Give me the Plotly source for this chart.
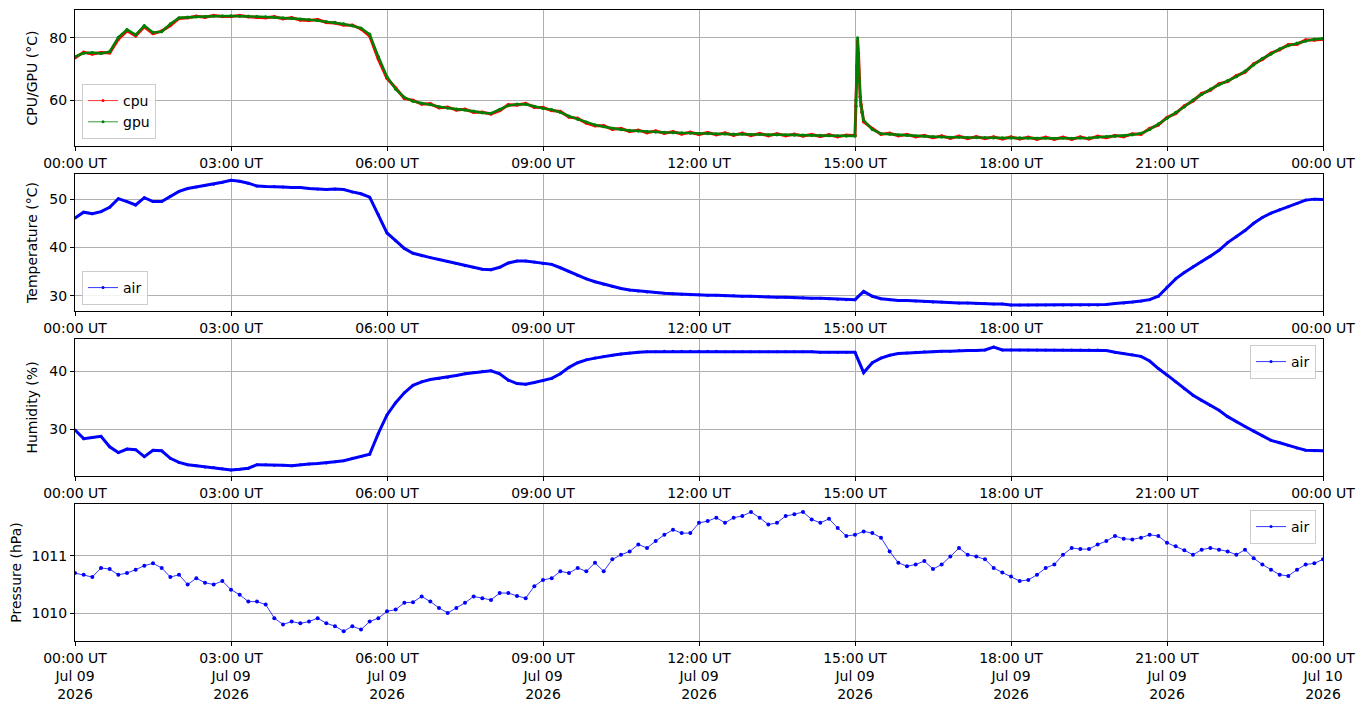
import pandas as pd
import plotly.graph_objects as go

# ---------------- data (10-minute samples, 00:00 .. 24:00) ----------------
times = pd.date_range("2026-07-09 00:00", "2026-07-10 00:00", freq="10min")

gpu = [
    74.0, 75.1, 75.3, 75.0, 75.6, 80.2,
    82.7, 81.0, 84.0, 81.8, 82.0, 84.5,
    86.5, 86.7, 86.8, 86.9, 87.0, 87.1,
    87.1, 87.0, 87.0, 86.9, 86.8, 86.6,
    86.5, 86.3, 86.1, 85.9, 85.6, 85.3,
    85.0, 84.5, 83.9, 83.2, 81.2, 74.0,
    67.5, 63.5, 60.9, 59.6, 59.0, 58.5,
    57.8, 57.4, 57.1, 56.8, 56.4, 55.9,
    55.7, 57.0, 58.2, 58.7, 58.6, 58.0,
    57.3, 56.9, 56.0, 54.8, 53.8, 52.9,
    52.0, 51.4, 50.9, 50.5, 50.2, 50.0,
    49.8, 49.7, 49.6, 49.5, 49.4, 49.3,
    49.2, 49.2, 49.1, 49.1, 49.0, 49.0,
    48.9, 48.9, 48.8, 48.8, 48.8, 48.7,
    48.7, 48.6, 48.6, 48.5, 48.5, 48.4,
    48.4, 53.5, 50.5, 49.2, 49.0, 48.8,
    48.6, 48.5, 48.3, 48.2, 48.1, 48.0,
    48.0, 47.9, 47.9, 47.9, 47.8, 47.8,
    47.8, 47.8, 47.7, 47.7, 47.7, 47.7,
    47.7, 47.7, 47.8, 47.8, 48.0, 48.2,
    48.3, 48.5, 48.8, 49.3, 50.5, 52.3,
    54.1, 56.0, 57.8, 60.0, 61.8, 63.5,
    64.9, 66.3, 67.5, 69.3, 71.3, 73.4,
    74.8, 76.5, 77.5, 78.3, 79.0, 79.6,
    79.8,
]

cpu = [
    73.6, 75.4, 74.8, 75.3, 75.2, 79.6,
    82.3, 80.7, 83.6, 81.4, 82.2, 84.0,
    86.3, 86.5, 87.0, 86.7, 87.2, 86.9,
    86.9, 87.2, 86.8, 86.7, 86.5, 86.8,
    86.2, 86.5, 85.8, 85.6, 85.9, 85.0,
    84.8, 84.2, 84.1, 82.9, 80.6, 73.2,
    67.0, 63.9, 60.5, 59.9, 58.7, 58.8,
    57.5, 57.7, 56.8, 57.0, 56.1, 56.1,
    55.5, 56.6, 58.5, 58.4, 58.9, 57.7,
    57.6, 56.6, 56.3, 54.5, 54.1, 52.6,
    51.7, 51.7, 50.6, 50.8, 49.9, 50.3,
    49.5, 50.0, 49.3, 49.8, 49.1, 49.6,
    48.9, 49.5, 48.8, 49.4, 48.7, 49.3,
    48.6, 49.2, 48.5, 49.1, 48.5, 49.0,
    48.4, 48.9, 48.3, 48.8, 48.2, 48.7,
    48.6, 53.0, 50.8, 49.0, 49.3, 48.5,
    48.9, 48.2, 48.6, 47.9, 48.4, 47.7,
    48.3, 47.6, 48.2, 47.6, 48.1, 47.5,
    48.1, 47.5, 48.0, 47.4, 48.0, 47.4,
    48.0, 47.4, 48.1, 47.5, 48.3, 47.9,
    48.6, 48.2, 49.1, 49.0, 50.8, 52.0,
    54.4, 55.7, 58.1, 59.7, 62.1, 63.2,
    65.2, 66.0, 67.8, 69.0, 71.6, 73.1,
    75.1, 76.2, 77.8, 78.0, 79.3, 79.3,
    79.6,
]

# short CPU/GPU spike just after 15:00 (1-minute samples)
spike_times = ["2026-07-09 15:01", "2026-07-09 15:02", "2026-07-09 15:03", "2026-07-09 15:04",
               "2026-07-09 15:05", "2026-07-09 15:06", "2026-07-09 15:07", "2026-07-09 15:08"]
spike_cpu = [58.0, 71.0, 79.0, 75.0, 67.0, 61.0, 58.5, 56.0]
spike_gpu = [60.0, 70.0, 80.0, 74.0, 66.0, 61.0, 58.0, 56.2]

temperature = [
    46.1, 47.3, 47.0, 47.4, 48.3, 50.1,
    49.5, 48.8, 50.3, 49.5, 49.5, 50.6,
    51.6, 52.2, 52.5, 52.8, 53.1, 53.5,
    53.9, 53.7, 53.3, 52.7, 52.6, 52.6,
    52.5, 52.4, 52.4, 52.2, 52.1, 52.0,
    52.1, 52.0, 51.5, 51.1, 50.4, 46.8,
    43.0, 41.4, 39.8, 38.8, 38.3, 37.9,
    37.5, 37.1, 36.7, 36.2, 35.9, 35.5,
    35.4, 35.9, 36.8, 37.2, 37.2, 37.0,
    36.7, 36.5, 35.8, 35.0, 34.2, 33.5,
    32.9, 32.4, 31.9, 31.5, 31.2, 31.0,
    30.8, 30.7, 30.5, 30.4, 30.3, 30.2,
    30.2, 30.1, 30.1, 30.0, 30.0, 29.9,
    29.9, 29.8, 29.8, 29.7, 29.7, 29.6,
    29.6, 29.5, 29.5, 29.4, 29.3, 29.2,
    29.2, 30.9, 29.9, 29.4, 29.2, 29.0,
    29.0, 28.9, 28.8, 28.7, 28.7, 28.6,
    28.5, 28.5, 28.4, 28.4, 28.3, 28.3,
    28.1, 28.1, 28.1, 28.1, 28.1, 28.1,
    28.1, 28.1, 28.1, 28.1, 28.1, 28.2,
    28.4, 28.5, 28.7, 28.9, 29.2, 29.9,
    31.8, 33.5, 34.8, 36.0, 37.1, 38.2,
    39.4, 41.0, 42.2, 43.5, 45.0, 46.2,
    47.1, 47.8, 48.4, 49.1, 49.8, 50.0,
    49.9,
]

humidity = [
    29.9, 28.4, 28.6, 28.8, 27.0, 26.0,
    26.6, 26.5, 25.3, 26.4, 26.3, 25.0,
    24.3, 23.9, 23.7, 23.5, 23.4, 23.2,
    23.0, 23.1, 23.3, 23.9, 23.9, 23.8,
    23.8, 23.7, 23.9, 24.0, 24.1, 24.2,
    24.4, 24.6, 25.0, 25.3, 25.7, 29.3,
    32.5, 34.6, 36.3, 37.6, 38.2, 38.6,
    38.8, 39.0, 39.3, 39.6, 39.8, 40.0,
    40.1, 39.6, 38.5, 37.9, 37.8, 38.1,
    38.4, 38.8, 39.6, 40.7, 41.5, 42.0,
    42.3, 42.6, 42.8, 43.0, 43.2, 43.3,
    43.4, 43.4, 43.5, 43.5, 43.5, 43.5,
    43.5, 43.5, 43.5, 43.4, 43.4, 43.4,
    43.4, 43.4, 43.4, 43.4, 43.4, 43.4,
    43.4, 43.4, 43.3, 43.3, 43.3, 43.3,
    43.3, 39.8, 41.5, 42.3, 42.8, 43.1,
    43.2, 43.3, 43.4, 43.4, 43.5, 43.5,
    43.6, 43.6, 43.6, 43.7, 44.2, 43.7,
    43.7, 43.7, 43.7, 43.7, 43.7, 43.7,
    43.7, 43.7, 43.7, 43.7, 43.7, 43.6,
    43.3, 43.1, 42.9, 42.6, 41.8, 40.5,
    39.4, 38.2, 37.0, 35.9, 35.0, 34.1,
    33.3, 32.2, 31.3, 30.5, 29.7, 28.9,
    28.1, 27.7, 27.2, 26.8, 26.4, 26.3,
    26.3,
]

pressure = [
    1010.70, 1010.67, 1010.63, 1010.79, 1010.77, 1010.67,
    1010.70, 1010.76, 1010.83, 1010.87, 1010.79, 1010.63,
    1010.67, 1010.50, 1010.61, 1010.53, 1010.50, 1010.56,
    1010.41, 1010.32, 1010.20, 1010.20, 1010.15, 1009.91,
    1009.80, 1009.85, 1009.82, 1009.85, 1009.91, 1009.82,
    1009.77, 1009.68, 1009.77, 1009.71, 1009.85, 1009.91,
    1010.03, 1010.06, 1010.18, 1010.19, 1010.29, 1010.20,
    1010.09, 1010.00, 1010.09, 1010.18, 1010.29, 1010.26,
    1010.23, 1010.35, 1010.35, 1010.30, 1010.26, 1010.47,
    1010.58, 1010.61, 1010.73, 1010.70, 1010.79, 1010.73,
    1010.88, 1010.73, 1010.94, 1011.02, 1011.08, 1011.20,
    1011.14, 1011.26, 1011.37, 1011.46, 1011.40, 1011.40,
    1011.58, 1011.61, 1011.67, 1011.58, 1011.67, 1011.70,
    1011.77, 1011.67, 1011.55, 1011.58, 1011.70, 1011.73,
    1011.77, 1011.64, 1011.58, 1011.65, 1011.49, 1011.35,
    1011.37, 1011.43, 1011.40, 1011.32, 1011.08, 1010.88,
    1010.82, 1010.85, 1010.91, 1010.77, 1010.85, 1010.99,
    1011.14, 1011.02, 1010.99, 1010.94, 1010.79, 1010.71,
    1010.64, 1010.56, 1010.58, 1010.67, 1010.79, 1010.85,
    1011.02, 1011.14, 1011.12, 1011.12, 1011.20, 1011.26,
    1011.35, 1011.30, 1011.29, 1011.32, 1011.37, 1011.35,
    1011.23, 1011.17, 1011.10, 1011.02, 1011.11, 1011.14,
    1011.11, 1011.08, 1011.02, 1011.11, 1010.96, 1010.85,
    1010.76, 1010.67, 1010.65, 1010.76, 1010.85, 1010.87,
    1010.94,
]

tick_times = ["2026-07-09 00:00", "2026-07-09 03:00", "2026-07-09 06:00", "2026-07-09 09:00",
              "2026-07-09 12:00", "2026-07-09 15:00", "2026-07-09 18:00", "2026-07-09 21:00",
              "2026-07-10 00:00"]
tick_hours = ["00:00 UT", "03:00 UT", "06:00 UT", "09:00 UT", "12:00 UT",
              "15:00 UT", "18:00 UT", "21:00 UT", "00:00 UT"]
tick_days = ["Jul 09", "Jul 09", "Jul 09", "Jul 09", "Jul 09", "Jul 09", "Jul 09", "Jul 09", "Jul 10"]
tick_years = ["2026"] * 9

y_titles = ["CPU/GPU (°C)", "Temperature (°C)", "Humidity (%)", "Pressure (hPa)"]
y_ranges = [[45.2, 89.0], [26.85, 55.2], [21.95, 45.6], [1009.51, 1011.91]]
y_ticks = [[60, 80], [30, 40, 50], [30, 40], [1010, 1011]]

# ---------------- build ----------------
cpu_df = pd.DataFrame({"t": list(times) + list(pd.to_datetime(spike_times)),
                       "cpu": cpu + spike_cpu, "gpu": gpu + spike_gpu}).sort_values("t")

RED, GREEN, BLUE = "#ff0000", "#008000", "#0000ff"
FONT = "DejaVu Sans"
FS = 14

fig = go.Figure()


def add_series(x, y, color, ax, lw, ms):
    fig.add_trace(go.Scatter(x=x, y=y, mode="lines+markers", xaxis="x" + ax, yaxis="y" + ax,
                             line=dict(color=color, width=lw), marker=dict(color=color, size=ms),
                             showlegend=False, hoverinfo="skip"))


def add_legend_entry(name, color, ax, legend):
    fig.add_trace(go.Scatter(x=[None], y=[None], mode="lines+markers", name=name,
                             xaxis="x" + ax, yaxis="y" + ax, legend=legend,
                             line=dict(color=color, width=0.8), marker=dict(color=color, size=3)))


add_series(cpu_df["t"], cpu_df["cpu"], RED, "", 3.0, 3.5)
add_series(cpu_df["t"], cpu_df["gpu"], GREEN, "", 2.4, 3.2)
add_series(times, temperature, BLUE, "2", 3.0, 3.0)
add_series(times, humidity, BLUE, "3", 3.0, 3.0)
add_series(times, pressure, BLUE, "4", 0.8, 4.0)

add_legend_entry("cpu", RED, "", "legend")
add_legend_entry("gpu", GREEN, "", "legend")
add_legend_entry("air", BLUE, "2", "legend2")
add_legend_entry("air", BLUE, "3", "legend3")
add_legend_entry("air", BLUE, "4", "legend4")

# The page body has an 8 px margin; target plot area on screen: x 75..1323, y 10..641
OFF = 8
W, H = 1364 - OFF, 707 - OFF
X0, X1, Y0, Y1 = 75 - OFF, 1323 - OFF, 10 - OFF, 641 - OFF
panels_px = [(10, 146), (174, 311), (339, 476), (504, 641)]


def dom(top, bot):
    top, bot = top - OFF, bot - OFF
    span = Y1 - Y0
    return [(Y1 - bot) / span, (Y1 - top) / span]


axis_common = dict(showline=True, mirror=True, linecolor="black", linewidth=1,
                   ticks="outside", ticklen=4, tickwidth=1, tickcolor="black",
                   showgrid=True, gridcolor="#b0b0b0", gridwidth=0.8, zeroline=False,
                   tickfont=dict(family=FONT, size=FS, color="black"))

layout = dict(width=W, height=H, plot_bgcolor="white", paper_bgcolor="white",
              margin=dict(l=X0, r=W - X1, t=Y0, b=H - Y1, autoexpand=False),
              font=dict(family=FONT, size=FS, color="black"))

for i in range(4):
    sfx = "" if i == 0 else str(i + 1)
    if i < 3:
        labels = tick_hours
    else:
        labels = [f"{h}<br>{d}<br>{y}" for h, d, y in zip(tick_hours, tick_days, tick_years)]
    layout["xaxis" + sfx] = dict(axis_common, type="date", domain=[0, 1],
                                 anchor="y" + sfx,
                                 range=["2026-07-09 00:00", "2026-07-10 00:00"],
                                 tickmode="array", tickvals=tick_times, ticktext=labels)
    layout["yaxis" + sfx] = dict(axis_common, domain=dom(*panels_px[i]), anchor="x" + sfx,
                                 range=y_ranges[i], tickmode="array", tickvals=y_ticks[i],
                                 title=dict(text=y_titles[i], font=dict(family=FONT, size=FS),
                                            standoff=8))

leg_common = dict(bgcolor="rgba(255,255,255,0.85)", bordercolor="#cccccc", borderwidth=1,
                  font=dict(family=FONT, size=FS, color="black"), itemwidth=30,
                  tracegroupgap=0)
span_x, span_y = X1 - X0, Y1 - Y0
layout["legend"] = dict(leg_common, x=7 / span_x, y=(641 - 139) / span_y, xanchor="left", yanchor="bottom")
layout["legend2"] = dict(leg_common, x=7 / span_x, y=(641 - 305) / span_y, xanchor="left", yanchor="bottom")
layout["legend3"] = dict(leg_common, x=(1316 - 75) / span_x, y=(641 - 345) / span_y, xanchor="right", yanchor="top")
layout["legend4"] = dict(leg_common, x=(1316 - 75) / span_x, y=(641 - 510) / span_y, xanchor="right", yanchor="top")

fig.update_layout(layout)
fig.write_html("out.html")
